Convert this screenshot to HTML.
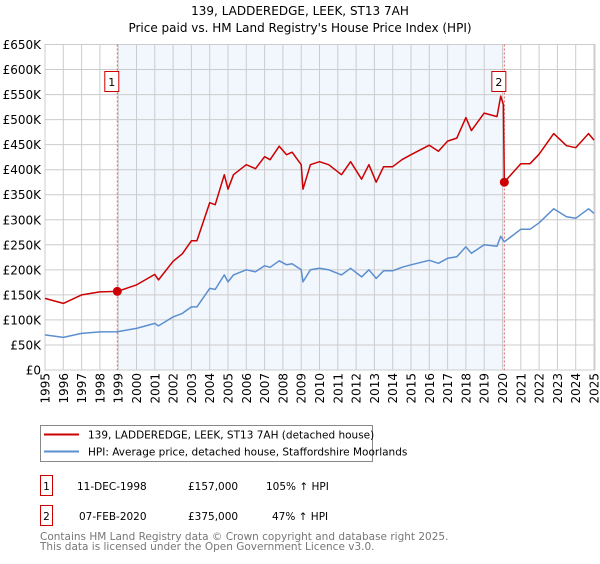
<!DOCTYPE html>
<html><head><meta charset="utf-8"><style>
body{margin:0;background:#fff;width:600px;height:560px;overflow:hidden;font-family:"DejaVu Sans","Liberation Sans",sans-serif}
svg text{font-family:"DejaVu Sans","Liberation Sans",sans-serif}
</style></head><body>
<svg id="chart" width="600" height="560">
<text x="300" y="15" text-anchor="middle" font-size="12">139, LADDEREDGE, LEEK, ST13 7AH</text>
<text x="300" y="32" text-anchor="middle" font-size="12">Price paid vs. HM Land Registry's House Price Index (HPI)</text>
<g id="plot"></g>
<g>
<rect x="40.5" y="425.5" width="332" height="36" fill="#fff" stroke="#888"/>
<line x1="44" y1="434.5" x2="79" y2="434.5" stroke="#cc0000" stroke-width="2"/>
<text x="88" y="438.5" font-size="10.5">139, LADDEREDGE, LEEK, ST13 7AH (detached house)</text>
<line x1="44" y1="451.5" x2="79" y2="451.5" stroke="#5b8fd0" stroke-width="2"/>
<text x="88" y="455.5" font-size="10.5">HPI: Average price, detached house, Staffordshire Moorlands</text>
</g>
<g font-size="10.5">
<rect x="40.5" y="475.5" width="12" height="20" fill="#fff" stroke="#cc0000"/>
<text x="46.5" y="490" text-anchor="middle">1</text>
<text x="77" y="490">11-DEC-1998</text>
<text x="188" y="490">£157,000</text>
<text x="266" y="490">105% ↑ HPI</text>
<rect x="40.5" y="505.5" width="12" height="20" fill="#fff" stroke="#cc0000"/>
<text x="46.5" y="520" text-anchor="middle">2</text>
<text x="79" y="520">07-FEB-2020</text>
<text x="188" y="520">£375,000</text>
<text x="272" y="520">47% ↑ HPI</text>
</g>
<text x="40" y="540" font-size="10.5" fill="#777">Contains HM Land Registry data © Crown copyright and database right 2025.</text>
<text x="40" y="550" font-size="10.5" fill="#777">This data is licensed under the Open Government Licence v3.0.</text>
</svg>
<script>
const hpiYears=[1995,1996,1997,1998,1998.95,2000,2001,2001.2,2002,2002.5,2003,2003.3,2004,2004.3,2004.8,2005,2005.3,2006,2006.5,2007,2007.3,2007.8,2008.2,2008.5,2009,2009.1,2009.5,2010,2010.5,2011.2,2011.7,2012.3,2012.7,2013.1,2013.5,2014,2014.5,2015,2016,2016.5,2017,2017.5,2018,2018.3,2019,2019.7,2019.9,2020.1,2021,2021.5,2022,2022.8,2023.5,2024,2024.7,2025];
const hpiValues=[70,65,73,76,76.5,83,93,88,106,113,126,126,163,161,190,176,190,200,196,208,205,218,210,212,200,176,200,203,200,190,203,186,200,183,198,198,205,210,219,213,223,226,246,233,250,247,267,256,281,281,294,322,306,303,322,313];
const priceYears=[1995,1996,1997,1998,1998.95,2000,2001,2001.2,2002,2002.5,2003,2003.3,2004,2004.3,2004.8,2005,2005.3,2006,2006.5,2007,2007.3,2007.8,2008.2,2008.5,2009,2009.1,2009.5,2010,2010.5,2011.2,2011.7,2012.3,2012.7,2013.1,2013.5,2014,2014.5,2015,2016,2016.5,2017,2017.5,2018,2018.3,2019,2019.7,2019.9,2020.05,2020.1,2021,2021.5,2022,2022.8,2023.5,2024,2024.7,2025];
const priceValues=[143,133,150,156,157,170,191,180,217,232,258,258,334,330,390,361,390,410,402,426,420,447,430,435,410,361,410,416,410,390,416,381,410,375,406,406,420,430,449,437,457,463,504,478,513,506,547,530,375,412,412,431,472,448,444,472,459];
const saleYears=[1998.95,2020.1];
const saleValues=[157,375];
const saleLabels=["1","2"];
const yTicks=[0,50,100,150,200,250,300,350,400,450,500,550,600,650];
const yTickLabels=["£0","£50K","£100K","£150K","£200K","£250K","£300K","£350K","£400K","£450K","£500K","£550K","£600K","£650K"];
const xTicks=[1995,1996,1997,1998,1999,2000,2001,2002,2003,2004,2005,2006,2007,2008,2009,2010,2011,2012,2013,2014,2015,2016,2017,2018,2019,2020,2021,2022,2023,2024,2025];

const X0=45,X1=594,Y0=370,Y1=44.5;
const x=v=>X0+(v-1995)/30*(X1-X0);
const y=v=>Y0-v/650*(Y0-Y1);
const NS="http://www.w3.org/2000/svg";
const plot=document.getElementById('plot');
function mk(t,a,p){const e=document.createElementNS(NS,t);for(const k in a)e.setAttribute(k,a[k]);(p||plot).appendChild(e);return e;}

const bg=mk('rect',{x:X0,y:Y1,width:X1-X0+1,height:Y0-Y1,fill:'#fff'});


const sh=mk('rect',{x:x(saleYears[0]),y:Y1,width:x(saleYears[1])-x(saleYears[0]),height:Y0-Y1,fill:'#f2f6fd'});



yTicks.forEach((t,i)=>{
  const g=mk('line',{x1:X0,x2:X1+1,y1:y(t),y2:y(t),stroke:'#ccc','stroke-width':1});
  
  
  const l=mk('text',{x:41,y:y(t)+4.5,'text-anchor':'end','font-size':'12'});
  l.textContent=yTickLabels[i];
  
  
});
xTicks.forEach(t=>{
  const g=mk('line',{x1:x(t),x2:x(t),y1:Y1,y2:Y0,stroke:'#ccc','stroke-width':1});
  
  
  const l=mk('text',{x:0,y:0,'text-anchor':'end','font-size':'12',transform:`translate(${x(t)+4.5},373) rotate(-90)`});
  l.textContent=t;
  
  
});
const bd=mk('rect',{x:X0,y:Y1,width:X1-X0+1,height:Y0-Y1,fill:'none',stroke:'#ccc'});



saleYears.forEach((s,i)=>{
  const v=mk('line',{x1:x(s),x2:x(s),y1:Y1,y2:Y0,stroke:'#e06060','stroke-width':1,'stroke-dasharray':'2,2'});
  
  
});

function line(xs,vs,col,name){
  const p=mk('polyline',{points:xs.map((a,i)=>x(a).toFixed(1)+','+y(vs[i]).toFixed(1)).join(' '),fill:'none',stroke:col,'stroke-width':1.5,'stroke-linejoin':'round'});
  
  
}
line(hpiYears,hpiValues,'#5b8fd0','hpi-line');
line(priceYears,priceValues,'#cc0000','price-paid-line');

saleYears.forEach((s,i)=>{
  const c=mk('circle',{cx:x(s),cy:y(saleValues[i]),r:4.5,fill:'#cc0000'});
  
  
  const bx=mk('rect',{x:x(s)-12.5,y:71.5,width:14,height:20,fill:'#fff',stroke:'#cc0000'});
  
  
  const t=mk('text',{x:x(s)-5.5,y:86,'text-anchor':'middle','font-size':'11'});
  t.textContent=saleLabels[i];
  
  
});
</script>
</body></html>
